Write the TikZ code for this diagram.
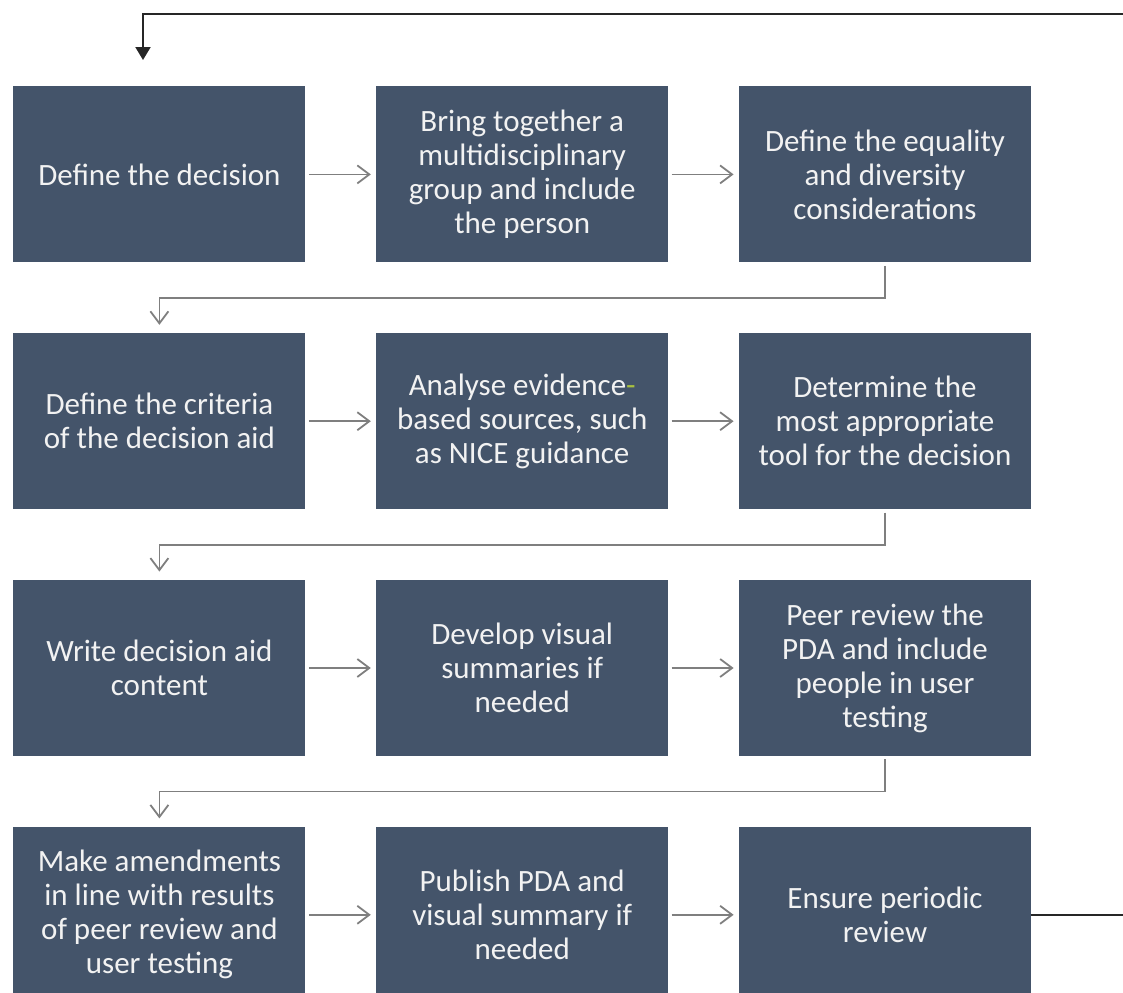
\documentclass[tikz,border=0pt]{standalone}
\usepackage{fontspec}
\setmainfont{Carlito}
\usetikzlibrary{arrows.meta,calc,positioning}

\definecolor{boxblue}{HTML}{44546A}
\definecolor{boxtext}{HTML}{F2F2F2}
\definecolor{linegray}{HTML}{7F7F7F}
\definecolor{lineblack}{HTML}{262626}
\definecolor{hyphgreen}{HTML}{A8C040}

\begin{document}
\begin{tikzpicture}[
  node distance=35pt and 35pt,
  stepbox/.style={fill=boxblue,text=boxtext,align=center,inner sep=0pt,
    minimum width=146pt,minimum height=88pt,font=\fontsize{15.5}{17}\selectfont},
  arr/.style={-{Straight Barb[length=6pt,width=9pt]},draw=linegray,line width=0.9pt,
    shorten <=1.5pt,shorten >=2.5pt},
  back/.style={-{Triangle[length=6.5pt,width=7.5pt]},draw=lineblack,line width=1pt}
]
  \useasboundingbox (0,0) rectangle (561.5pt,-496pt);

  % row 1
  \node[stepbox,anchor=north west] (define) at (6.5pt,-43pt) {Define the decision};
  \node[stepbox,right=of define] (group) {Bring together a\\multidisciplinary\\group and include\\the person};
  \node[stepbox,right=of group] (equality) {Define the equality\\and diversity\\considerations};

  % row 2
  \node[stepbox,below=of define] (criteria) {Define the criteria\\of the decision aid};
  \node[stepbox,right=of criteria] (evidence) {Analyse evidence{\color{hyphgreen}-}\\based sources, such\\as NICE guidance};
  \node[stepbox,right=of evidence] (tool) {Determine the\\most appropriate\\tool for the decision};

  % row 3
  \node[stepbox,below=of criteria] (content) {Write decision aid\\content};
  \node[stepbox,right=of content] (visual) {Develop visual\\summaries if\\needed};
  \node[stepbox,right=of visual] (peer) {Peer review the\\PDA and include\\people in user\\testing};

  % row 4
  \node[stepbox,below=of content] (amend) {Make amendments\\in line with results\\of peer review and\\user testing};
  \node[stepbox,right=of amend] (publish) {Publish PDA and\\visual summary if\\needed};
  \node[stepbox,right=of publish] (review) {Ensure periodic\\review};

  \draw[arr] (define)--(group);
  \draw[arr] (group)--(equality);
  \draw[arr] (criteria)--(evidence);
  \draw[arr] (evidence)--(tool);
  \draw[arr] (content)--(visual);
  \draw[arr] (visual)--(peer);
  \draw[arr] (amend)--(publish);
  \draw[arr] (publish)--(review);

  \draw[arr,shorten >=4pt] (equality.south) -- ++(0,-17.5pt) -| (criteria.north);
  \draw[arr,shorten >=4pt] (tool.south) -- ++(0,-17.5pt) -| (content.north);
  \draw[arr,shorten >=4pt] (peer.south) -- ++(0,-17.5pt) -| (amend.north);

  % back to the start
  \coordinate (entry) at (71.5pt,-30pt);
  \draw[back] (review.east) -- ++(50pt,0) |- ($(entry)+(0,23pt)$) -- (entry);
\end{tikzpicture}
\end{document}
